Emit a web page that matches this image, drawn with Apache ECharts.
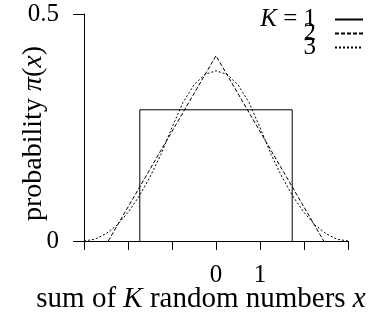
<!DOCTYPE html>
<html>
<head>
<meta charset="utf-8">
<script src="https://cdn.jsdelivr.net/npm/echarts@6/dist/echarts.min.js"></script>
<style>
  html, body { margin: 0; padding: 0; background: #fff; }
  #chart { width: 381px; height: 321px; }
</style>
</head>
<body>
<div id="chart"></div>
<script>
// Density of the sum of K uniform random numbers (unit variance)
const seriesNames = ['K = 1', '2', '3'];

// K = 1: flat box
const k1 = [[-1.732, 0], [-1.732, 0.289], [1.732, 0.289], [1.732, 0]];

// K = 2: triangle
const k2 = [[-2.449, 0], [0, 0.408], [2.449, 0]];

// K = 3: smooth bell made of parabolic pieces
const k3x = [-3, -2.75, -2.5, -2.25, -2, -1.75, -1.5, -1.25, -1, -0.75, -0.5, -0.25, 0,
             0.25, 0.5, 0.75, 1, 1.25, 1.5, 1.75, 2, 2.25, 2.5, 2.75, 3];
const k3y = [0, 0.004, 0.016, 0.035, 0.063, 0.098, 0.141, 0.191, 0.25, 0.305, 0.344, 0.367, 0.375,
             0.367, 0.344, 0.305, 0.25, 0.191, 0.141, 0.098, 0.063, 0.035, 0.016, 0.004, 0];

const xTickLabels = { '0': '0', '1': '1' };
const yTickLabels = { '0': '0', '0.5': '0.5' };

const FONT = 'Liberation Serif';
const k3 = k3x.map((x, i) => [x, k3y[i]]);
const lineTypes = ['solid', [4, 2], [2, 2]];
const allData = [k1, k2, k3];

const italic = size => ({ i: { fontFamily: FONT, fontStyle: 'italic', fontSize: size, color: '#000' } });

const chart = echarts.init(document.getElementById('chart'), null, { renderer: 'canvas' });

const legendTops = [7, 21, 35];
chart.setOption({
  animation: false,
  backgroundColor: '#fff',
  textStyle: { fontFamily: FONT, color: '#000' },
  grid: { left: 84, right: 33, top: 14, bottom: 80, containLabel: false, outerBoundsMode: 'none' },
  legend: seriesNames.map((n, i) => ({
    data: [n],
    orient: 'vertical',
    align: 'right',
    left: 'auto',
    right: 17,
    top: legendTops[i],
    bottom: 'auto',
    padding: 0,
    itemWidth: 28,
    itemHeight: 14,
    itemGap: 6,
    selectedMode: false,
    itemStyle: { opacity: 0 },
    formatter: (i === 0 ? '{i|K} = 1' : n) + '{g|}',
    textStyle: {
      fontFamily: FONT, fontSize: 25, color: '#000',
      rich: Object.assign(italic(25), { g: { width: 14 } })
    }
  })),
  xAxis: {
    type: 'value',
    min: -3, max: 3, interval: 1,
    name: 'sum of {i|K} random numbers {i|x}',
    nameLocation: 'middle',
    nameGap: 44,
    nameMoveOverlap: false,
    nameTextStyle: {
      fontFamily: FONT, fontSize: 29, color: '#000', rich: italic(29),
      padding: [0, 30, 0, 0]
    },
    axisLine: { onZero: false, lineStyle: { color: '#000', width: 1 } },
    axisTick: { inside: false, length: 9, lineStyle: { color: '#000', width: 1 } },
    axisLabel: {
      fontFamily: FONT, fontSize: 25, color: '#000', margin: 22,
      formatter: v => xTickLabels[String(v)] || ''
    },
    splitLine: { show: false }
  },
  yAxis: {
    type: 'value',
    min: 0, max: 0.5, interval: 0.5,
    name: 'probability {i|π}({i|x})',
    nameLocation: 'middle',
    nameGap: 36,
    nameMoveOverlap: false,
    nameTextStyle: {
      fontFamily: FONT, fontSize: 28, color: '#000', rich: italic(28),
      padding: [0, 12, 0, 0]
    },
    axisLine: { show: true, onZero: false, lineStyle: { color: '#000', width: 1 } },
    axisTick: { show: true, inside: false, length: 11, lineStyle: { color: '#000', width: 1 } },
    axisLabel: {
      fontFamily: FONT, fontSize: 25, color: '#000', margin: 25,
      formatter: v => yTickLabels[String(v)] || ''
    },
    splitLine: { show: false }
  },
  series: seriesNames.map((n, i) => ({
    name: n,
    type: 'line',
    data: allData[i],
    symbol: 'none',
    smooth: false,
    color: '#000',
    lineStyle: { color: '#000', width: 1, type: lineTypes[i] }
  }))
});
</script>
</body>
</html>
